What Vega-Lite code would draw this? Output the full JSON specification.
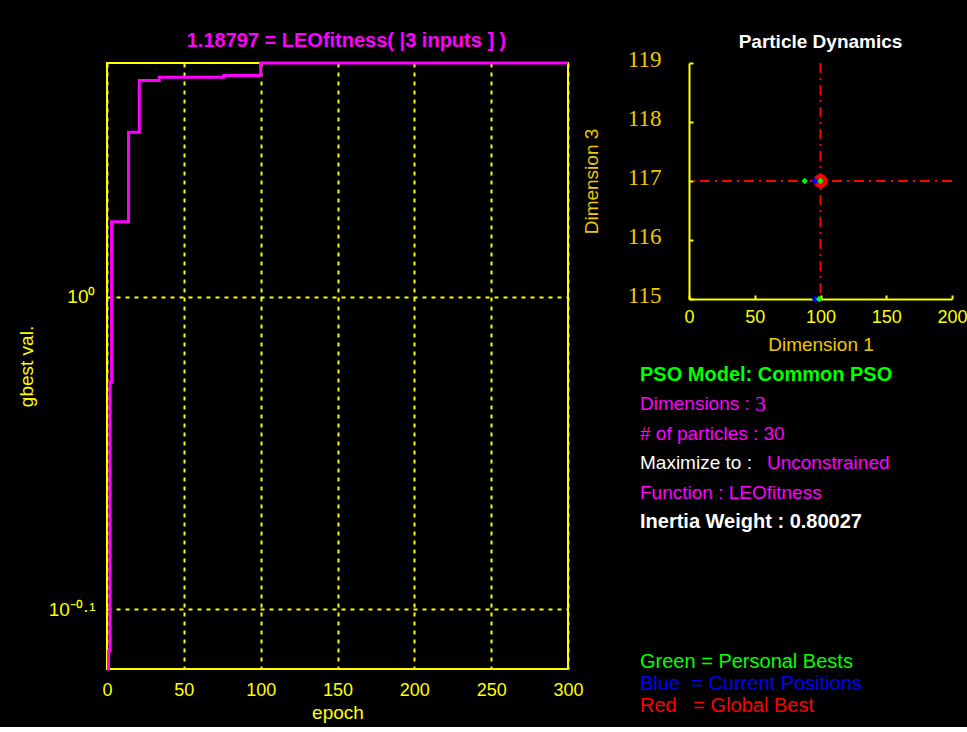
{
  "$schema": "https://vega.github.io/schema/vega-lite/v6.json",
  "background": "#000000",
  "padding": {"left": 16, "top": 30, "right": 0, "bottom": 4},
  "config": {
    "view": {"stroke": null},
    "font": "Liberation Sans",
    "axis": {
      "domainColor": "#FFFF00", "domainWidth": 2, "ticks": false,
      "labelColor": "#FFFF00", "titleColor": "#FFFF00",
      "labelFont": "Liberation Sans", "titleFont": "Liberation Sans",
      "labelFontSize": 18, "titleFontSize": 19, "titleFontWeight": "normal",
      "gridColor": "#FFFF00", "gridDash": [4, 5], "gridWidth": 2, "gridOpacity": 1,
      "labelFlush": false, "labelOverlap": false
    },
    "title": {"font": "Liberation Sans", "fontWeight": "bold"}
  },
  "datasets": {
    "gbest": [
      {"epoch": 0, "gbest": 0.760},
      {"epoch": 1, "gbest": 0.770},
      {"epoch": 2, "gbest": 0.939},
      {"epoch": 3, "gbest": 1.0567},
      {"epoch": 14, "gbest": 1.1289},
      {"epoch": 21, "gbest": 1.1727},
      {"epoch": 34, "gbest": 1.1756},
      {"epoch": 76, "gbest": 1.1771},
      {"epoch": 100, "gbest": 1.18797},
      {"epoch": 300, "gbest": 1.18797}
    ],
    "particles": [
      {"d1": 100, "d3": 117, "kind": "Global Best"},
      {"d1": 96, "d3": 117, "kind": "Current Position"},
      {"d1": 96, "d3": 115, "kind": "Current Position"},
      {"d1": 88, "d3": 117, "kind": "Personal Best"},
      {"d1": 100, "d3": 117, "kind": "Personal Best"},
      {"d1": 99, "d3": 115, "kind": "Personal Best"}
    ],
    "info": [
      {"line": 1, "text": "PSO Model: Common PSO", "kind": "model"},
      {"line": 2, "text": "Dimensions :", "kind": "setting"},
      {"line": 2, "text": "3", "kind": "digit"},
      {"line": 3, "text": "# of particles : 30", "kind": "setting"},
      {"line": 4, "text": "Maximize to : ", "kind": "label"},
      {"line": 4, "text": "Unconstrained", "kind": "value"},
      {"line": 5, "text": "Function : LEOfitness", "kind": "setting"},
      {"line": 6, "text": "Inertia Weight : 0.80027", "kind": "weight"},
      {"line": 1, "text": "Green = Personal Bests", "kind": "legend", "series": "Green"},
      {"line": 2, "text": "Blue\u00a0\u00a0= Current Positions", "kind": "legend", "series": "Blue"},
      {"line": 3, "text": "Red\u00a0\u00a0\u00a0= Global Best", "kind": "legend", "series": "Red"}
    ]
  },
  "columns": 2,
  "align": "none",
  "spacing": -3,
  "concat": [
    {
      "width": 461,
      "height": 606,
      "view": {"stroke": "#FFFF00", "strokeWidth": 2},
      "title": {"text": "1.18797 = LEOfitness( |3 inputs ] )", "color": "#FF00FF", "fontSize": 20, "offset": 6, "dx": 9},
      "data": {"name": "gbest"},
      "mark": {"type": "line", "interpolate": "step-after", "color": "#FF00FF", "strokeWidth": 3},
      "encoding": {
        "x": {"field": "epoch", "type": "quantitative", "scale": {"domain": [0, 300], "nice": false},
              "axis": {"values": [0, 50, 100, 150, 200, 250, 300], "grid": true, "domain": false, "title": "epoch", "labelPadding": 12, "titlePadding": 4}},
        "y": {"field": "gbest", "type": "quantitative", "scale": {"type": "log", "domain": [0.76, 1.18797], "nice": false},
              "axis": {"values": [0.7943282347, 1], "grid": true, "domain": false, "title": "gbest val.", "labelFontSize": 19,
                       "labelExpr": "datum.value == 1 ? '10⁰' : '10⁻⁰·¹'", "labelPadding": 12, "titlePadding": 12}}
      }
    },
    {
      "spacing": 6,
      "vconcat": [
        {
          "width": 263,
          "height": 236,
          "title": {"text": "Particle Dynamics", "color": "#FFFFFF", "fontSize": 19, "offset": -4},
          "data": {"name": "particles"},
          "layer": [
            {
              "transform": [{"filter": "datum.kind == 'Global Best'"}],
              "mark": {"type": "rule", "color": "#FF0000", "strokeWidth": 2, "strokeDash": [10, 5, 2, 5]},
              "encoding": {"x": {"field": "d1", "type": "quantitative", "scale": {"domain": [0, 200], "nice": false}}}
            },
            {
              "transform": [{"filter": "datum.kind == 'Global Best'"}],
              "mark": {"type": "rule", "color": "#FF0000", "strokeWidth": 2, "strokeDash": [10, 5, 2, 5]},
              "encoding": {"y": {"field": "d3", "type": "quantitative", "scale": {"domain": [115, 119], "nice": false, "zero": false}}}
            },
            {
              "transform": [{"filter": "datum.kind == 'Global Best'"}],
              "mark": {"type": "point", "shape": "circle", "filled": true, "color": "#FF0000", "size": 200, "opacity": 1},
              "encoding": {
                "x": {"field": "d1", "type": "quantitative", "scale": {"domain": [0, 200], "nice": false},
                      "axis": {"values": [0, 50, 100, 150, 200], "format": "d", "grid": false, "title": "Dimension 1", "titleColor": "#F0C800",
                               "ticks": true, "tickSize": -4, "tickColor": "#FFFF00", "tickWidth": 2, "labelPadding": 13, "titlePadding": 9}},
                "y": {"field": "d3", "type": "quantitative", "scale": {"domain": [115, 119], "nice": false, "zero": false},
                      "axis": {"values": [115, 116, 117, 118, 119], "format": "d", "grid": false, "title": "Dimension 3", "titleColor": "#F0C800",
                               "ticks": true, "tickSize": -4, "tickColor": "#FFFF00", "tickWidth": 2,
                               "labelColor": "#F0C800", "labelFont": "Liberation Serif", "labelFontSize": 23, "labelPadding": 32, "labelOffset": -4, "titlePadding": 26}}
              }
            },
            {
              "transform": [{"filter": "datum.kind == 'Current Position'"}],
              "mark": {"type": "point", "shape": "diamond", "filled": true, "color": "#0000FF", "size": 50, "opacity": 1},
              "encoding": {
                "x": {"field": "d1", "type": "quantitative", "scale": {"domain": [0, 200], "nice": false}},
                "y": {"field": "d3", "type": "quantitative", "scale": {"domain": [115, 119], "nice": false, "zero": false}}
              }
            },
            {
              "transform": [{"filter": "datum.kind == 'Personal Best'"}],
              "mark": {"type": "point", "shape": "diamond", "filled": true, "color": "#00FF00", "size": 40, "opacity": 1},
              "encoding": {
                "x": {"field": "d1", "type": "quantitative", "scale": {"domain": [0, 200], "nice": false}},
                "y": {"field": "d3", "type": "quantitative", "scale": {"domain": [115, 119], "nice": false, "zero": false}}
              }
            }
          ]
        },
        {
          "width": 263,
          "height": 357.75,
          "data": {"name": "info"},
          "resolve": {"scale": {"y": "independent"}},
          "layer": [
            {"transform": [{"filter": "datum.kind == 'model'"}],
             "mark": {"type": "text", "align": "left", "baseline": "middle", "font": "Liberation Sans", "fontSize": 20, "fontWeight": "bold", "color": "#00FF00"},
             "encoding": {"y": {"field": "line", "type": "quantitative", "scale": {"domain": [0.5, 12.627], "reverse": true, "nice": false, "zero": false}, "axis": null},
                          "x": {"value": -49}, "text": {"field": "text"}}},
            {"transform": [{"filter": "datum.kind == 'setting'"}],
             "mark": {"type": "text", "align": "left", "baseline": "middle", "font": "Liberation Sans", "fontSize": 19, "color": "#FF00FF"},
             "encoding": {"y": {"field": "line", "type": "quantitative", "scale": {"domain": [0.5, 12.627], "reverse": true, "nice": false, "zero": false}, "axis": null},
                          "x": {"value": -49}, "text": {"field": "text"}}},
            {"transform": [{"filter": "datum.kind == 'digit'"}],
             "mark": {"type": "text", "align": "left", "baseline": "middle", "font": "Liberation Serif", "fontSize": 22, "color": "#FF00FF", "dx": 115},
             "encoding": {"y": {"field": "line", "type": "quantitative", "scale": {"domain": [0.5, 12.627], "reverse": true, "nice": false, "zero": false}, "axis": null},
                          "x": {"value": -49}, "text": {"field": "text"}}},
            {"transform": [{"filter": "datum.kind == 'label'"}],
             "mark": {"type": "text", "align": "left", "baseline": "middle", "font": "Liberation Sans", "fontSize": 19, "color": "#FFFFFF"},
             "encoding": {"y": {"field": "line", "type": "quantitative", "scale": {"domain": [0.5, 12.627], "reverse": true, "nice": false, "zero": false}, "axis": null},
                          "x": {"value": -49}, "text": {"field": "text"}}},
            {"transform": [{"filter": "datum.kind == 'value'"}],
             "mark": {"type": "text", "align": "left", "baseline": "middle", "font": "Liberation Sans", "fontSize": 19, "color": "#FF00FF", "dx": 127},
             "encoding": {"y": {"field": "line", "type": "quantitative", "scale": {"domain": [0.5, 12.627], "reverse": true, "nice": false, "zero": false}, "axis": null},
                          "x": {"value": -49}, "text": {"field": "text"}}},
            {"transform": [{"filter": "datum.kind == 'weight'"}],
             "mark": {"type": "text", "align": "left", "baseline": "middle", "font": "Liberation Sans", "fontSize": 20, "fontWeight": "bold", "color": "#FFFFFF"},
             "encoding": {"y": {"field": "line", "type": "quantitative", "scale": {"domain": [0.5, 12.627], "reverse": true, "nice": false, "zero": false}, "axis": null},
                          "x": {"value": -49}, "text": {"field": "text"}}},
            {"transform": [{"filter": "datum.kind == 'legend'"}],
             "mark": {"type": "text", "align": "left", "baseline": "middle", "font": "Liberation Sans", "fontSize": 20},
             "encoding": {"y": {"field": "line", "type": "quantitative", "scale": {"domain": [-12.748, 3.513], "reverse": true, "nice": false, "zero": false}, "axis": null},
                          "x": {"value": -49}, "text": {"field": "text"},
                          "color": {"field": "series", "type": "nominal", "scale": {"domain": ["Green", "Blue", "Red"], "range": ["#00FF00", "#0000FF", "#FF0000"]}, "legend": null}}}
          ]
        }
      ]
    }
  ]
}
